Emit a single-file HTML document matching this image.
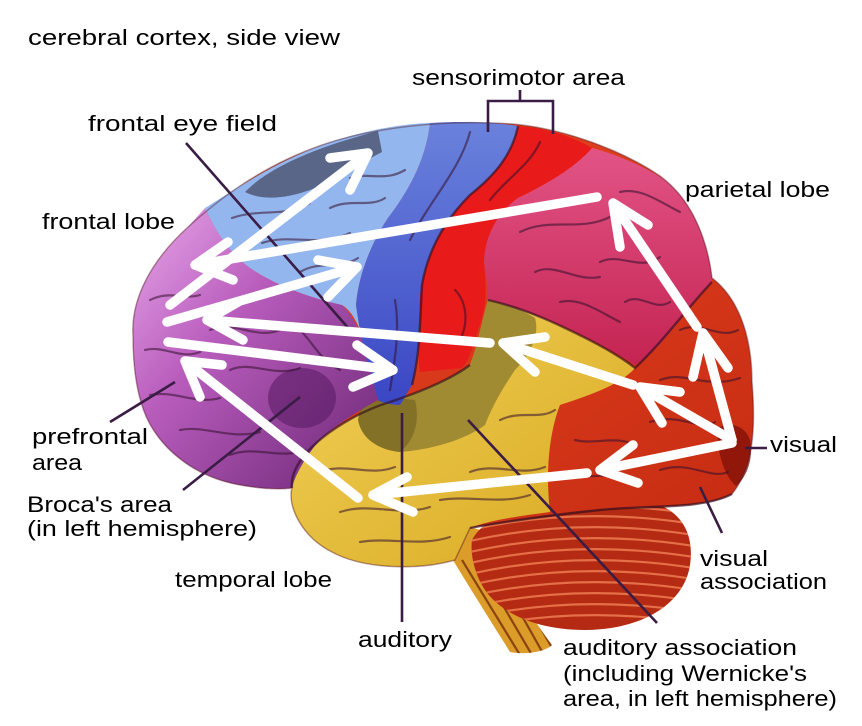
<!DOCTYPE html>
<html>
<head>
<meta charset="utf-8">
<style>
  html,body{margin:0;padding:0;background:#fff;}
  svg{display:block;}
  text{font-family:"Liberation Sans",sans-serif;font-size:22px;fill:#000;}
</style>
</head>
<body>
<svg width="862" height="726" viewBox="0 0 862 726" xmlns="http://www.w3.org/2000/svg">
  <defs>
    <linearGradient id="purp" x1="0" y1="0" x2="1" y2="1">
      <stop offset="0" stop-color="#e8a8ea"/>
      <stop offset="0.4" stop-color="#b85cbc"/>
      <stop offset="1" stop-color="#6a2674"/>
    </linearGradient>
    <linearGradient id="mblue" x1="0" y1="0" x2="0" y2="1">
      <stop offset="0" stop-color="#6a82dc"/>
      <stop offset="1" stop-color="#3a46c4"/>
    </linearGradient>
    <linearGradient id="pink" x1="0" y1="0" x2="0" y2="1">
      <stop offset="0" stop-color="#e25486"/>
      <stop offset="1" stop-color="#c42452"/>
    </linearGradient>
    <linearGradient id="yel" x1="0" y1="0" x2="1" y2="1">
      <stop offset="0" stop-color="#f2d25a"/>
      <stop offset="1" stop-color="#d8a820"/>
    </linearGradient>
    <linearGradient id="occ" x1="0" y1="0" x2="1" y2="1">
      <stop offset="0" stop-color="#ee4a22"/>
      <stop offset="1" stop-color="#c42a12"/>
    </linearGradient>
    <clipPath id="cbclip">
      <path d="M472,540 C490,505 560,498 640,500 C678,505 695,530 690,565 C684,605 640,630 585,630 C535,630 500,612 485,590 C475,575 470,555 472,540 Z"/>
    </clipPath>
    <clipPath id="stclip">
      <path d="M438,528 C455,525 475,525 490,535 C505,570 525,610 552,645 C545,652 525,655 510,652 C490,620 465,580 448,552 Z"/>
    </clipPath>
  </defs>

  <!-- brainstem -->
  <path d="M438,528 C455,525 475,525 490,535 C505,570 525,610 552,645 C545,652 525,655 510,652 C490,620 465,580 448,552 Z" fill="#dc9c2a"/>
  <g clip-path="url(#stclip)" stroke="#8a4410" stroke-width="2.2" fill="none">
    <path d="M462,560 L520,655"/><path d="M474,556 L532,655"/><path d="M486,552 L544,655"/><path d="M498,552 L556,655"/>
  </g>

  <!-- cerebellum -->
  <path d="M472,540 C490,505 560,498 640,500 C678,505 695,530 690,565 C684,605 640,630 585,630 C535,630 500,612 485,590 C475,575 470,555 472,540 Z" fill="#b42a12"/>
  <g clip-path="url(#cbclip)" stroke="#ee7c52" stroke-width="2.2" fill="none" opacity="0.85">
    <path d="M470,520 Q580,495 700,515"/>
    <path d="M470,530 Q580,505 700,525"/>
    <path d="M470,541 Q580,516 700,536"/>
    <path d="M470,552 Q580,527 700,547"/>
    <path d="M470,563 Q580,538 700,558"/>
    <path d="M470,574 Q580,549 700,569"/>
    <path d="M470,585 Q580,560 700,580"/>
    <path d="M470,596 Q580,571 700,591"/>
    <path d="M470,607 Q580,582 700,602"/>
    <path d="M470,618 Q580,593 700,613"/>
    <path d="M470,629 Q580,604 700,624"/>
  </g>

  <!-- cerebrum base (occipital / posterior temporal) -->
  <path d="M133,335 C131,298 152,260 187,228 C220,198 262,166 322,145 C372,128 442,119 512,124 C562,128 622,150 660,176 C690,198 707,236 712,278 C736,296 752,332 752,382 C756,430 753,468 732,494 C702,510 646,505 600,510 C560,514 500,522 470,528 L455,560 C420,570 365,570 332,552 C302,537 287,506 292,488 C275,490 255,488 235,484 C188,474 152,442 141,402 C135,382 133,358 133,335 Z" fill="url(#occ)"/>
  <!-- dark visual pole -->
  <path d="M718,428 C732,420 750,428 751,446 C752,462 746,478 736,486 C724,476 716,450 718,428 Z" fill="#7e1008" opacity="0.75"/>

  <!-- yellow temporal -->
  <path d="M292,488 C290,470 305,450 330,432 C350,418 370,408 390,402 C420,392 450,380 470,365 C478,345 482,320 488,300 C515,306 540,316 565,328 C595,342 620,356 635,368 C620,385 590,395 560,405 C550,430 545,470 550,512 C520,516 490,520 470,528 L455,560 C420,570 365,570 332,552 C302,537 287,506 292,488 Z" fill="url(#yel)"/>

  <!-- olive auditory -->
  <path d="M470,365 C478,345 482,320 488,300 C505,304 520,308 535,318 C540,335 530,355 515,370 C505,385 495,400 485,425 C465,440 430,450 400,452 C380,450 362,440 358,420 C360,408 370,400 390,402 C420,392 450,380 470,365 Z" fill="#a08a32"/>
  <path d="M362,400 C380,396 400,398 415,400 C420,420 415,440 400,452 C380,450 362,440 358,420 Z" fill="#7c6a26" opacity="0.8"/>

  <!-- purple frontal -->
  <path d="M133,335 C131,298 152,260 187,228 L205,208 C215,230 228,252 250,268 C275,285 310,298 342,305 C358,320 365,345 370,370 L378,400 C360,410 335,425 318,442 C305,458 295,475 292,488 C275,490 255,488 235,484 C188,474 152,442 141,402 C135,382 133,358 133,335 Z" fill="url(#purp)"/>
  <ellipse cx="302" cy="398" rx="34" ry="30" fill="#561a60" opacity="0.55"/>

  <!-- light blue frontal -->
  <path d="M205,208 C240,186 280,160 322,145 C365,130 400,124 430,123 C426,160 408,192 388,218 C368,248 358,280 356,305 L360,330 C355,318 350,310 342,305 C310,298 275,285 250,268 C228,252 215,230 205,208 Z" fill="#94b6ee"/>
  <!-- slate top -->
  <path d="M245,192 C270,166 320,146 378,131 L382,152 C362,162 340,178 310,190 C290,197 265,202 245,192 Z" fill="#5a6688"/>

  <!-- motor strip -->
  <path d="M430,123 C460,121 495,122 518,126 C512,155 495,175 470,195 C445,220 428,250 422,285 C420,320 420,355 412,385 L400,405 C390,405 380,402 378,400 L370,370 C362,345 358,320 356,305 C358,280 368,248 388,218 C408,192 426,160 430,123 Z" fill="url(#mblue)"/>

  <!-- red sensory -->
  <path d="M518,126 C545,128 570,135 592,148 C575,168 545,185 518,198 C498,212 485,235 484,262 C486,285 488,305 478,330 C472,350 468,362 462,368 L420,372 C418,360 418,340 420,320 C420,300 420,290 422,285 C428,250 445,220 470,195 C495,175 512,155 518,126 Z" fill="#e81a1a"/>

  <!-- pink parietal -->
  <path d="M592,148 C620,155 650,170 662,178 C690,198 707,236 712,278 L712,282 C700,295 688,310 672,330 C660,345 648,358 635,365 C615,352 590,338 560,325 C535,315 510,305 488,300 C488,285 486,275 484,262 C485,235 498,212 518,198 C545,185 575,168 592,148 Z" fill="url(#pink)"/>

  <!-- sulci texture -->
  <g stroke="#34102e" stroke-width="2.2" fill="none" opacity="0.55" stroke-linecap="round">
    <path d="M150,300 C170,290 185,300 200,295"/>
    <path d="M145,350 C165,345 180,360 200,352"/>
    <path d="M150,395 C175,390 195,405 220,398"/>
    <path d="M180,430 C205,425 230,440 260,432"/>
    <path d="M210,330 C235,320 255,340 280,330"/>
    <path d="M230,370 C250,360 275,378 300,368"/>
    <path d="M300,330 C315,345 320,360 340,370"/>
    <path d="M230,455 C255,445 280,460 305,450"/>
    <path d="M232,218 C260,208 285,218 310,203"/>
    <path d="M262,243 C290,233 320,248 350,233"/>
    <path d="M300,272 C320,260 340,270 358,258"/>
    <path d="M350,178 C370,172 385,182 405,170"/>
    <path d="M330,208 C350,198 370,208 385,198"/>
    <path d="M470,132 C460,170 430,200 410,240"/>
    <path d="M395,300 C400,330 395,360 390,390"/>
    <path d="M540,142 C530,165 505,180 490,200"/>
    <path d="M455,290 C465,300 470,320 460,340"/>
    <path d="M520,232 C550,217 580,232 610,217"/>
    <path d="M600,262 C620,252 640,272 660,257"/>
    <path d="M535,272 C555,262 575,282 600,277"/>
    <path d="M625,302 C640,292 655,312 670,302"/>
    <path d="M620,192 C640,187 660,202 680,212"/>
    <path d="M560,302 C580,297 600,312 620,322"/>
    <path d="M680,330 C700,320 720,340 738,330"/>
    <path d="M660,380 C685,370 705,390 740,378"/>
    <path d="M650,422 C680,412 700,432 715,422"/>
    <path d="M660,470 C690,460 710,480 728,472"/>
    <path d="M575,440 C595,445 615,435 635,445"/>
    <path d="M565,475 C590,480 615,470 640,480"/>
    <path d="M320,472 C345,462 370,477 395,467"/>
    <path d="M340,512 C370,502 400,517 430,507"/>
    <path d="M360,542 C390,537 420,547 450,537"/>
    <path d="M470,472 C495,462 520,477 545,467"/>
    <path d="M440,500 C470,495 500,505 530,495"/>
    <path d="M500,420 C520,410 540,420 555,410"/>
  </g>
  <!-- main fissure outlines -->
  <g stroke="#2a0c1c" stroke-width="2.4" fill="none" opacity="0.6">
    <path d="M518,126 C512,155 495,175 470,195 C445,220 428,250 422,285 C420,320 420,355 412,385"/>
    <path d="M292,488 C290,470 305,450 330,432 C350,418 370,408 390,402 C420,392 450,380 470,365"/>
    <path d="M488,300 C515,306 540,316 565,328 C595,342 620,356 635,368 C660,345 690,305 712,282"/>
    <path d="M470,528 C500,522 560,514 600,510 C646,505 702,510 732,494"/>
  </g>
  <!-- silhouette edge -->
  <path d="M133,335 C131,298 152,260 187,228 C220,198 262,166 322,145 C372,128 442,119 512,124 C562,128 622,150 660,176 C690,198 707,236 712,278 C736,296 752,332 752,382 C756,430 753,468 732,494 C702,510 646,505 600,510 C560,514 500,522 470,528 L455,560 C420,570 365,570 332,552 C302,537 287,506 292,488 C275,490 255,488 235,484 C188,474 152,442 141,402 C135,382 133,358 133,335 Z" fill="none" stroke="#4a1420" stroke-width="1.5" opacity="0.4"/>

  <!-- leader lines -->
  <g stroke="#3a1c44" stroke-width="2.6" fill="none">
    <path d="M488,132 L488,101 L553,101 L553,134"/>
    <path d="M520,101 L520,90"/>
    <path d="M186,143 L350,330"/>
    <path d="M110,422 L175,382"/>
    <path d="M183,490 L300,397"/>
    <path d="M402,413 L402,622"/>
    <path d="M468,420 L657,623"/>
    <path d="M745,448 L767,448"/>
    <path d="M700,487 L722,533"/>
  </g>

  <!-- arrows -->
  <g stroke="#ffffff" stroke-width="9.5" fill="none" stroke-linecap="round" stroke-linejoin="round">
    <path d="M170,305 L368,153 M330,158 L368,153 L350,190"/>
    <path d="M597,197 L195,265 M228,242 L195,265 L233,280"/>
    <path d="M167,322 L357,267 M318,260 L357,267 L328,297"/>
    <path d="M490,343 L207,320 M238,302 L207,320 L243,340"/>
    <path d="M168,342 L393,370 M357,345 L393,370 L353,387"/>
    <path d="M358,498 L185,361 M222,365 L185,361 L200,397"/>
    <path d="M587,473 L373,495 M407,477 L373,495 L413,512"/>
    <path d="M732,443 L600,470 M633,445 L600,470 L638,483"/>
    <path d="M732,440 L703,333 M693,377 L703,333 L728,368"/>
    <path d="M732,440 L640,387 M680,392 L640,387 L662,423"/>
    <path d="M697,327 L613,203 M648,225 L613,203 L620,247"/>
    <path d="M633,385 L503,343 M545,337 L503,343 L535,372"/>
  </g>

  <!-- labels -->
  <text x="28" y="45" textLength="312" lengthAdjust="spacingAndGlyphs">cerebral cortex, side view</text>
  <text x="412" y="85" textLength="213" lengthAdjust="spacingAndGlyphs">sensorimotor area</text>
  <text x="88" y="131" textLength="189" lengthAdjust="spacingAndGlyphs">frontal eye field</text>
  <text x="42" y="229" textLength="133" lengthAdjust="spacingAndGlyphs">frontal lobe</text>
  <text x="685" y="197" textLength="145" lengthAdjust="spacingAndGlyphs">parietal lobe</text>
  <text x="32" y="444" textLength="116" lengthAdjust="spacingAndGlyphs">prefrontal</text>
  <text x="32" y="470" textLength="50" lengthAdjust="spacingAndGlyphs">area</text>
  <text x="27" y="512" textLength="145" lengthAdjust="spacingAndGlyphs">Broca's area</text>
  <text x="27" y="536" textLength="230" lengthAdjust="spacingAndGlyphs">(in left hemisphere)</text>
  <text x="175" y="587" textLength="157" lengthAdjust="spacingAndGlyphs">temporal lobe</text>
  <text x="358" y="647" textLength="94" lengthAdjust="spacingAndGlyphs">auditory</text>
  <text x="770" y="452" textLength="67" lengthAdjust="spacingAndGlyphs">visual</text>
  <text x="700" y="566" textLength="68" lengthAdjust="spacingAndGlyphs">visual</text>
  <text x="700" y="589" textLength="127" lengthAdjust="spacingAndGlyphs">association</text>
  <text x="563" y="655" textLength="234" lengthAdjust="spacingAndGlyphs">auditory association</text>
  <text x="563" y="681" textLength="244" lengthAdjust="spacingAndGlyphs">(including Wernicke's</text>
  <text x="563" y="706" textLength="274" lengthAdjust="spacingAndGlyphs">area, in left hemisphere)</text>
</svg>
</body>
</html>
